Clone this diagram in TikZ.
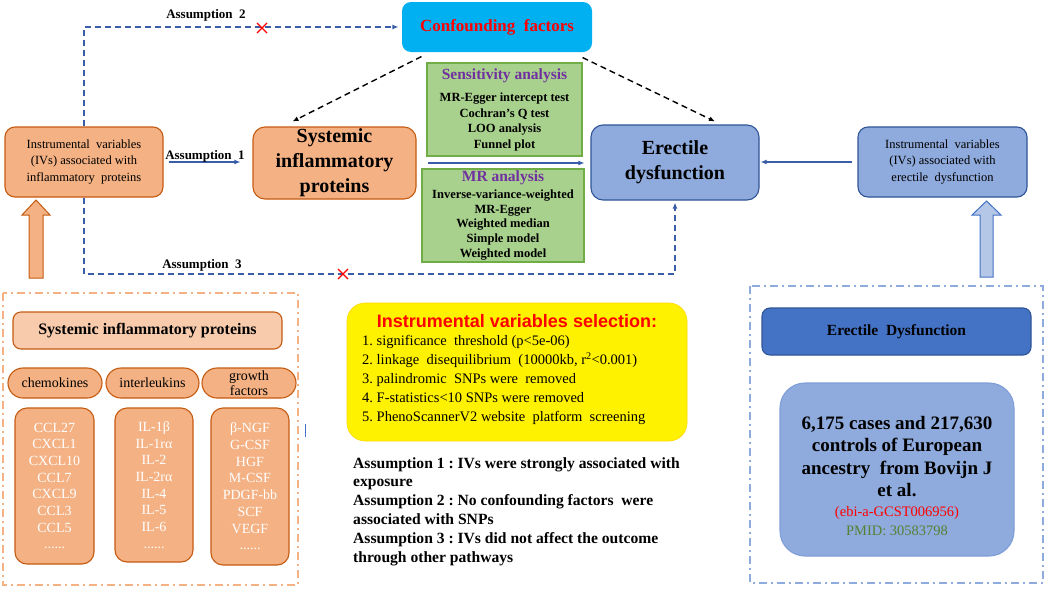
\documentclass[tikz,border=0pt]{standalone}
\usepackage{fontspec}
\setmainfont{Liberation Serif}
\newfontfamily\sansb{Liberation Sans}
\usetikzlibrary{arrows.meta}
\frenchspacing
\newcommand{\fsz}[2]{\fontsize{#1}{#2}\selectfont}
\definecolor{orfill}{HTML}{F4B183}
\definecolor{ordraw}{HTML}{C55A11}
\definecolor{orlight}{HTML}{F8CBAD}
\definecolor{bfill}{HTML}{8FAADC}
\definecolor{bdraw}{HTML}{2F5597}
\definecolor{bmid}{HTML}{4472C4}
\definecolor{bline}{HTML}{3A5DA8}
\definecolor{bsoft}{HTML}{7F9FD8}
\definecolor{cyanf}{HTML}{00B0F0}
\definecolor{gfill}{HTML}{A9D18E}
\definecolor{gdraw}{HTML}{70AD47}
\definecolor{purp}{HTML}{7030A0}
\definecolor{redt}{HTML}{FF0000}
\definecolor{greent}{HTML}{548235}
\definecolor{arrowfill}{HTML}{B4C7E7}
\begin{document}
\begin{tikzpicture}[x=1pt,y=-1pt,
  box/.style={rectangle, rounded corners=#1, inner sep=0pt, align=center, line width=1.1pt},
  box/.default=8pt,
  lab/.style={font=\bfseries\fsz{13}{15}, inner sep=0pt},
  bluearrow/.style={draw=bline, line width=1.2pt, -{Latex[length=6pt,width=5pt]}},
  dashblue/.style={draw=bline, line width=1.4pt, dash pattern=on 6pt off 4pt, -{Latex[length=6pt,width=5pt]}},
  dashblack/.style={draw=black, line width=1.4pt, dash pattern=on 6pt off 4pt, -{Latex[length=6pt,width=5pt]}},
  redcross/.style={draw=redt, line width=1.3pt},
  ddor/.style={draw=orfill, line width=1.4pt, dash pattern=on 8pt off 4pt on 2pt off 4pt},
  ddbl/.style={draw=bfill, line width=1.4pt, dash pattern=on 8pt off 4pt on 2pt off 4pt},
  oval/.style={box=15pt, fill=orfill, draw=ordraw, minimum height=30pt, font=\fsz{14}{16}},
  listbox/.style={box=12pt, fill=orfill, draw=ordraw, text=white, font=\fsz{14}{16.7}, minimum width=78pt}
]
\useasboundingbox (0,0) rectangle (1052,592);
\fill[white] (0,0) rectangle (1052,592);

% ---------- top diagram ----------
\node[box=9pt, fill=cyanf, minimum width=190pt, minimum height=50pt, font=\bfseries\fsz{17}{20}, text=redt] (conf) at (497,27) {Confounding\ \ factors};

\node[box=10pt, fill=orfill, draw=ordraw, minimum width=158pt, minimum height=70pt, font=\fsz{12.5}{16.5}] (ivl) at (84,162) {Instrumental\ \ variables\\(IVs)\ associated\ with\\inflammatory\ \ proteins};

\node[box=12pt, fill=orfill, draw=ordraw, minimum width=163pt, minimum height=72pt, font=\bfseries\fsz{20}{25}] (sip) at (334.5,163) {Systemic\\inflammatory\\proteins};

\node[box=0pt, fill=gfill, draw=gdraw, minimum width=155pt, minimum height=93pt, font=\bfseries\fsz{12.5}{15.5}] (sens) at (504.5,109.5) {{\color{purp}\fsz{15.5}{18}Sensitivity analysis}\\[7pt]MR-Egger intercept test\\Cochran’s Q test\\LOO analysis\\Funnel plot};

\node[box=0pt, fill=gfill, draw=gdraw, minimum width=162pt, minimum height=93pt, font=\bfseries\fsz{12.5}{14.7}] (mr) at (503,215.5) {{\color{purp}\fsz{15.5}{17}MR analysis}\\[2pt]Inverse-variance-weighted\\MR-Egger\\Weighted median\\Simple model\\Weighted model};

\node[box=12pt, fill=bfill, draw=bdraw, minimum width=168pt, minimum height=75pt, font=\bfseries\fsz{20}{25}] (ed) at (675,162.5) {Erectile\\dysfunction};

\node[box=10pt, fill=bfill, draw=bdraw, minimum width=169pt, minimum height=70pt, font=\fsz{12.5}{16.5}] (ivr) at (942.5,162) {Instrumental\ \ variables\\(IVs)\ associated\ with\\erectile\ \ dysfunction};

% connectors
\draw[bluearrow, shorten <=5pt, shorten >=12pt] (ivl.east) -- (ivl.east -| sip.west);
\node[lab] (a1) at (205,156) {Assumption\ \ 1};
\draw[bluearrow, shorten <=11pt, shorten >=6pt] (sip.east) -- (sip.east -| ed.west);
\draw[bluearrow, shorten <=5pt, shorten >=1pt] (ivr.west) -- (ivr.west -| ed.east);

\draw[dashblue, shorten >=3pt] (ivl.north) |- (conf.west);
\node[lab] (a2) at (206,15) {Assumption\ \ 2};
\draw[redcross] (262,28) +(-5,-5) -- +(5,5) +(-5,5) -- +(5,-5);

\coordinate (a3c) at (84,274);
\draw[dashblue, shorten >=2pt] (ivl.south) -- (a3c) -| (ed.south);
\node[lab] (a3) at (202,265) {Assumption\ \ 3};
\draw[redcross] (343,274) +(-5,-5) -- +(5,5) +(-5,5) -- +(5,-5);

\draw[dashblack] ([xshift=20pt,yshift=-4pt]conf.south west) -- ([xshift=-42pt,yshift=5pt]sip.north);
\draw[dashblack] ([xshift=-10pt,yshift=-5pt]conf.south east) -- ([xshift=40pt,yshift=3pt]ed.north);

% block arrows
\draw[fill=orfill, draw=ordraw, line width=1pt] (29,278) -- (29,215) -- (22,215) -- (36,200) -- (50,215) -- (43,215) -- (43,278) -- cycle;
\draw[fill=arrowfill, draw=bmid, line width=1pt] (980,277) -- (980,215) -- (972,215) -- (986.5,201) -- (1001,215) -- (993,215) -- (993,277) -- cycle;

% ---------- lower left ----------
\draw[ddor] (3,293) rectangle (298,585);
\node[box=8pt, fill=orlight, draw=ordraw, minimum width=269pt, minimum height=37pt, font=\bfseries\fsz{16}{18}] (siph) at (147.5,330.5) {Systemic inflammatory proteins};
\node[oval, minimum width=94pt] (chem) at (55,383) {chemokines};
\node[oval, minimum width=93pt] (inter) at (152.5,383) {interleukins};
\node[oval, minimum width=94pt, font=\fsz{14}{15.5}] (growth) at (249,383) {growth\\factors};
\node[listbox, minimum width=79pt, minimum height=156pt] (lc) at (54.5,486) {CCL27\\CXCL1\\CXCL10\\CCL7\\CXCL9\\CCL3\\CCL5\\......};
\node[listbox, minimum height=154pt] (li) at (154,485) {IL-1β\\IL-1rα\\IL-2\\IL-2rα\\IL-4\\IL-5\\IL-6\\......};
\node[listbox, minimum height=157pt] (lg) at (250,486.5) {β-NGF\\G-CSF\\HGF\\M-CSF\\PDGF-bb\\SCF\\VEGF\\......};
\draw[bmid, line width=0.8pt] (305,424) -- (305,437);

% ---------- middle ----------
\node[box=18pt, fill=yellow, draw=yellow!75!orange, line width=0.6pt, minimum width=340pt, minimum height=138pt] (ivs) at (517,372) {};
\node[font=\sansb\bfseries\fsz{18}{20}, text=redt, inner sep=0pt] (ivst) at (517,321) {Instrumental variables selection:};
\node[anchor=west, align=left, font=\fsz{14.5}{18.8}, inner sep=0pt] (ivsi) at (362,380) {1.\ significance\ \ threshold (p<5e-06)\\2.\ linkage\ \ disequilibrium\ \ (10000kb, r\textsuperscript{2}<0.001)\\3.\ palindromic\ \ SNPs were\ \ removed\\4.\ F-statistics<10 SNPs were removed\\5.\ PhenoScannerV2 website\ \ platform\ \ screening};

\node[anchor=north west, align=left, font=\bfseries\fsz{15.6}{18.8}, inner sep=0pt] (asm) at (353,457) {Assumption 1 : IVs were strongly associated with\\exposure\\Assumption 2 : No confounding factors\ \ were\\associated with SNPs\\Assumption 3 : IVs did not affect the outcome\\through other pathways};

% ---------- lower right ----------
\draw[ddbl] (750,286) rectangle (1043,583);
\node[box=8pt, fill=bmid, draw=bdraw, minimum width=269pt, minimum height=47pt, font=\bfseries\fsz{15.5}{18}] (edh) at (896.5,331.5) {Erectile\ \ Dysfunction};
\node[box=25pt, fill=bfill, draw=bsoft, minimum width=234pt, minimum height=173pt] (data) at (897,469.5) {};
\node[align=center, inner sep=0pt, font=\bfseries\fsz{19}{22.5}] (datat) at (897,476) {6,175 cases and 217,630\\controls of European\\ancestry\ \ from Bovijn J\\et al.\\[-3pt]{\mdseries\fsz{14.5}{19}\color{redt}(ebi-a-GCST006956)}\\[-3pt]{\mdseries\fsz{14.5}{19}\color{greent}PMID: 30583798}};
\end{tikzpicture}
\end{document}
